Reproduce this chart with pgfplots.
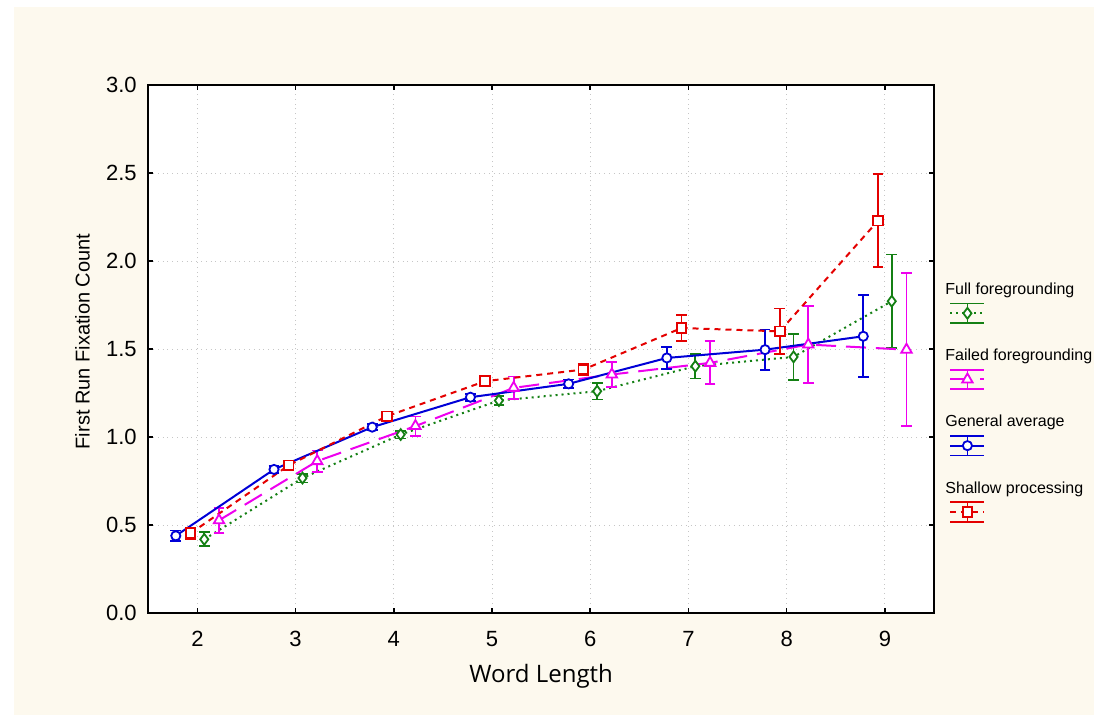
\documentclass[border=0pt]{standalone}
\usepackage{pgfplots}
\usepackage{pgfplotstable}
\pgfplotsset{compat=1.18}
\usepackage{fontspec}
\setmainfont{Liberation Sans}
\newfontfamily\labelfont{Open Sans}

\definecolor{bgcream}{RGB}{253,249,238}
\definecolor{cgreen}{RGB}{20,128,20}
\definecolor{cmag}{RGB}{238,0,238}
\definecolor{cblue}{RGB}{0,0,215}
\definecolor{cred}{RGB}{228,0,0}

% means and error half-widths per word length (x shifted per group)
\pgfplotstableread{
x     y      e
2.07  0.420  0.040
3.07  0.768  0.025
4.07  1.015  0.022
5.07  1.208  0.025
6.07  1.261  0.047
7.07  1.403  0.070
8.07  1.456  0.130
9.07  1.772  0.265
}\fulltab
\pgfplotstableread{
x     y      e
2.22  0.528  0.070
3.22  0.864  0.060
4.22  1.063  0.054
5.22  1.280  0.065
6.22  1.356  0.073
7.22  1.422  0.122
8.22  1.526  0.220
9.22  1.497  0.435
}\failtab
\pgfplotstableread{
x     y      e
1.78  0.440  0.030
2.78  0.817  0.020
3.78  1.057  0.018
4.78  1.227  0.020
5.78  1.303  0.025
6.78  1.450  0.062
7.78  1.497  0.115
8.78  1.573  0.233
}\avgtab
\pgfplotstableread{
x     y      e
1.93  0.454  0.030
2.93  0.840  0.020
3.93  1.119  0.020
4.93  1.318  0.025
5.93  1.384  0.030
6.93  1.620  0.075
7.93  1.601  0.130
8.93  2.229  0.264
}\shallowtab

\pgfplotsset{
  errlegend/.style={
    legend image code/.code={
      \path (0pt,0pt);
      \begin{pgfinterruptboundingbox}
        \draw[solid,line width=0.9pt] (3pt,-6.6pt) -- (20pt,-6.6pt)
             (3pt,-16.4pt) -- (20pt,-16.4pt)
             (11.5pt,-6.6pt) -- (11.5pt,-16.4pt);
        \draw[mark repeat=2,mark phase=2] plot coordinates {(3pt,-11.5pt) (11.5pt,-11.5pt) (20pt,-11.5pt)};
      \end{pgfinterruptboundingbox}
    }
  },
  ebars/.style={
    error bars/.cd, y dir=both, y explicit,
    error bar style={solid, line width=0.9pt},
    error mark options={solid, rotate=90, mark size=2.7pt, line width=0.9pt},
    /pgfplots/.cd
  }
}

\begin{document}
\begin{tikzpicture}
\useasboundingbox (0,0) rectangle (547pt,357.5pt);
\fill[white] (0,0) rectangle (547pt,357.5pt);
\fill[bgcream] (7pt,0) rectangle (547pt,354pt);
\begin{axis}[
  at={(74.15pt,50.85pt)}, anchor=south west,
  scale only axis, width=392.85pt, height=264.15pt,
  xmin=1.5, xmax=9.5, ymin=0, ymax=3,
  xtick={2,3,4,5,6,7,8,9}, ytick={0,0.5,1,1.5,2,2.5,3},
  /pgf/number format/assume math mode=true,
  tick label style={font=\fontsize{11}{13}\selectfont, black},
  yticklabel style={xshift=-2.3pt, /pgf/number format/.cd, fixed, fixed zerofill, precision=1},
  xticklabel style={yshift=-5.5pt},
  tick align=inside, major tick length=2.5pt,
  tick style={black, line width=0.8pt},
  axis line style={black, line width=1pt},
  axis background/.style={fill=white},
  grid=major, major grid style={gray!45, dotted, line width=0.5pt},
  xlabel={Word Length},
  xlabel style={font=\labelfont\fontsize{12}{14}\selectfont, at={(axis description cs:0.5,-0.1187)}, anchor=center},
  ylabel={First Run Fixation Count},
  ylabel style={font=\fontsize{10}{12}\selectfont, at={(axis description cs:-0.0837,0.5145)}, anchor=center, rotate=0},
  legend style={at={(axis description cs:1.0115,0.626)}, anchor=north west,
    draw=none, fill=none, inner sep=0pt, row sep=25.8pt, column sep=0pt,
    nodes={inner sep=0pt, font=\fontsize{8}{9.6}\selectfont}},
  legend cell align=left,
]
\addplot[cgreen, line width=1pt, dash pattern=on 1pt off 2pt, mark=diamond*, mark size=2.7pt,
  mark options={solid, fill=white, line width=0.9pt}, errlegend, ebars]
  table[x=x, y=y, y error=e] {\fulltab};
\addlegendentry{Full foregrounding}
\addplot[cmag, line width=1pt, dash pattern=on 10pt off 5pt, mark=triangle*, mark size=3pt,
  mark options={solid, fill=white, line width=0.9pt}, errlegend, ebars]
  table[x=x, y=y, y error=e] {\failtab};
\addlegendentry{Failed foregrounding}
\addplot[cblue, line width=1pt, solid, mark=*, mark size=2.3pt,
  mark options={solid, fill=white, line width=0.9pt}, errlegend, ebars]
  table[x=x, y=y, y error=e] {\avgtab};
\addlegendentry{General average}
\addplot[cred, line width=1pt, dash pattern=on 3pt off 2.5pt, mark=square*, mark size=2.4pt,
  mark options={solid, fill=white, line width=0.9pt}, errlegend, ebars]
  table[x=x, y=y, y error=e] {\shallowtab};
\addlegendentry{Shallow processing}
\end{axis}
\end{tikzpicture}
\end{document}
